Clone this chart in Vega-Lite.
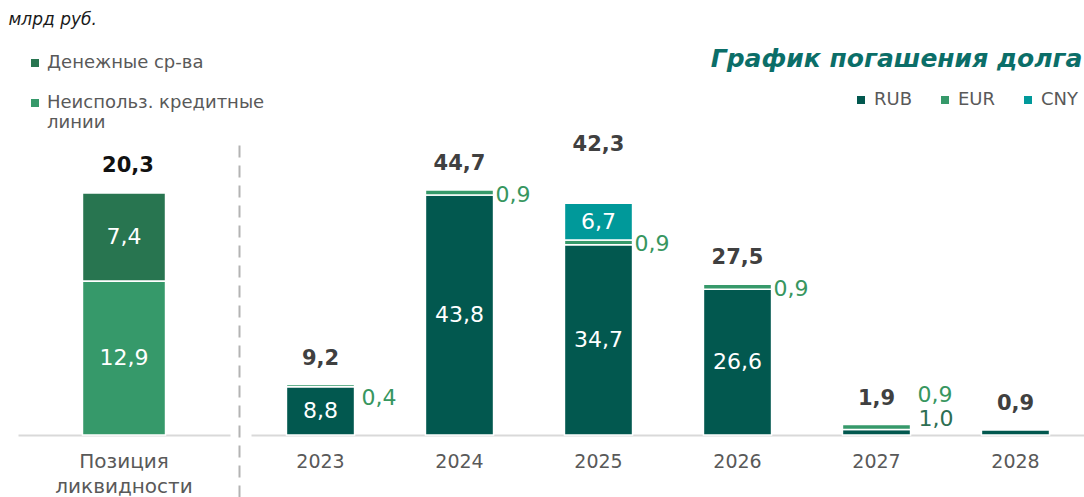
{
  "$schema": "https://vega.github.io/schema/vega-lite/v6.json",
  "width": 1084,
  "height": 435,
  "autosize": {"type": "none"},
  "padding": {"left": 0, "top": 0, "right": 0, "bottom": 62},
  "background": "white",
  "datasets": {
    "liq": [
      {"pos": "Позиция ликвидности", "cat": "Денежные ср-ва", "value": 7.4},
      {"pos": "Позиция ликвидности", "cat": "Неиспольз. кредитные линии", "value": 12.9}
    ],
    "debt": [
      {"year": "2023", "currency": "RUB", "value": 8.8},
      {"year": "2023", "currency": "EUR", "value": 0.4},
      {"year": "2024", "currency": "RUB", "value": 43.8},
      {"year": "2024", "currency": "EUR", "value": 0.9},
      {"year": "2025", "currency": "RUB", "value": 34.7},
      {"year": "2025", "currency": "EUR", "value": 0.9},
      {"year": "2025", "currency": "CNY", "value": 6.7},
      {"year": "2026", "currency": "RUB", "value": 26.6},
      {"year": "2026", "currency": "EUR", "value": 0.9},
      {"year": "2027", "currency": "RUB", "value": 1.0},
      {"year": "2027", "currency": "EUR", "value": 0.9},
      {"year": "2028", "currency": "RUB", "value": 0.9}
    ]
  },
  "config": {
    "font": "DejaVu Sans",
    "view": {"stroke": null},
    "locale": {"number": {"decimal": ",", "thousands": " ", "grouping": [3], "currency": ["", " ₽"]}},
    "axis": {"grid": false, "ticks": false}
  },
  "resolve": {
    "scale": {"x": "independent", "y": "independent", "color": "independent"},
    "axis": {"x": "independent", "y": "independent"},
    "legend": {"color": "independent"}
  },
  "layer": [
    {
      "data": {"name": "liq"},
      "layer": [
        {
          "mark": {"type": "bar", "stroke": "white", "strokeWidth": 1.5},
          "encoding": {
            "x": {"field": "pos", "type": "nominal",
              "scale": {"type": "band", "range": [18, 230], "paddingInner": 0.437, "paddingOuter": 0.437},
              "axis": {"title": null, "orient": "bottom", "labelExpr": "split(datum.label, ' ')", "labelAngle": 0, "labelFontSize": 20, "labelColor": "#595959", "labelLineHeight": 25, "labelPadding": 16, "domainColor": "#d9d9d9", "domainWidth": 2, "ticks": false}},
            "y": {"field": "value", "type": "quantitative", "stack": "zero",
              "scale": {"domain": [0, 25.17], "range": [435, 135], "nice": false},
              "axis": {"orient": "left", "labels": false, "ticks": false, "domain": false, "grid": false, "title": "млрд руб.", "titleAngle": 0, "titleX": 8, "titleY": 19, "titleAlign": "left", "titleBaseline": "middle", "titleFontStyle": "italic", "titleFontWeight": "normal", "titleFontSize": 17, "titleColor": "#1a1a1a"}},
            "color": {"field": "cat", "type": "nominal",
              "scale": {"domain": ["Денежные ср-ва", "Неиспольз. кредитные линии"], "range": ["#287550", "#36996a"]},
              "legend": {"title": null, "orient": "none", "legendX": 26, "legendY": 54, "direction": "vertical", "symbolType": "square", "symbolSize": 64, "symbolStrokeWidth": 0, "labelFontSize": 18, "labelColor": "#595959", "labelOffset": 3, "rowPadding": 22, "labelLimit": 400,
                "labelExpr": "datum.label == 'Неиспольз. кредитные линии' ? ['Неиспольз. кредитные', 'линии'] : datum.label"}},
            "order": {"field": "cat", "sort": "descending"}
          }
        },
        {
          "mark": {"type": "text", "color": "white", "fontSize": 22},
          "encoding": {
            "x": {"field": "pos", "type": "nominal"},
            "y": {"field": "value", "type": "quantitative", "stack": "zero", "bandPosition": 0.5},
            "detail": {"field": "cat"},
            "order": {"field": "cat", "sort": "descending"},
            "text": {"field": "value", "type": "quantitative", "format": ".1f"}
          }
        },
        {
          "transform": [{"aggregate": [{"op": "sum", "field": "value", "as": "total"}], "groupby": ["pos"]}],
          "mark": {"type": "text", "color": "#111111", "fontSize": 21, "fontWeight": "bold", "dy": -27, "dx": 4},
          "encoding": {
            "x": {"field": "pos", "type": "nominal"},
            "y": {"field": "total", "type": "quantitative"},
            "text": {"field": "total", "type": "quantitative", "format": ".1f"}
          }
        }
      ]
    },
    {
      "data": {"name": "debt"},
      "layer": [
        {
          "mark": {"type": "bar", "stroke": "white", "strokeWidth": 1.5},
          "encoding": {
            "x": {"field": "year", "type": "ordinal",
              "scale": {"type": "band", "range": [251, 1085], "paddingInner": 0.51, "paddingOuter": 0.255},
              "axis": {"title": null, "orient": "bottom", "labelAngle": 0, "labelFontSize": 19, "labelColor": "#595959", "labelPadding": 17, "domainColor": "#d9d9d9", "domainWidth": 2, "ticks": false}},
            "y": {"field": "value", "type": "quantitative", "stack": "zero",
              "scale": {"domain": [-11.31, 53.83], "range": [497, 140], "nice": false, "zero": false},
              "axis": {"orient": "left", "offset": -239, "labels": false, "ticks": false, "grid": false, "domain": true, "domainColor": "#b3b3b3", "domainDash": [12, 8], "domainWidth": 2,
                "title": "График погашения долга", "titleAngle": 0, "titleX": 843, "titleY": 58, "titleAlign": "right", "titleBaseline": "middle", "titleFontStyle": "italic", "titleFontWeight": "bold", "titleFontSize": 25, "titleColor": "#0b6e68"}},
            "color": {"field": "currency", "type": "nominal",
              "scale": {"domain": ["RUB", "EUR", "CNY"], "range": ["#02584f", "#36996a", "#00999a"]},
              "legend": {"title": null, "orient": "none", "legendX": 852, "legendY": 91, "direction": "horizontal", "symbolType": "square", "symbolSize": 64, "symbolStrokeWidth": 0, "labelFontSize": 18, "labelColor": "#595959", "labelOffset": 4, "columnPadding": 23}},
            "order": {"field": "currency", "sort": "descending"}
          }
        },
        {
          "mark": {"type": "text", "color": "white", "fontSize": 22},
          "encoding": {
            "x": {"field": "year", "type": "ordinal"},
            "y": {"field": "value", "type": "quantitative", "stack": "zero", "bandPosition": 0.5},
            "detail": {"field": "currency"},
            "order": {"field": "currency", "sort": "descending"},
            "text": {"field": "value", "type": "quantitative", "format": ".1f"},
            "opacity": {"condition": {"test": "datum.currency != 'EUR' && datum.value > 2", "value": 1}, "value": 0}
          }
        },
        {
          "mark": {"type": "text", "color": "#37965f", "fontSize": 22, "align": "left", "dx": 36, "dy": 2},
          "encoding": {
            "x": {"field": "year", "type": "ordinal"},
            "y": {"field": "value", "type": "quantitative", "stack": "zero", "bandPosition": 0.5},
            "detail": {"field": "currency"},
            "order": {"field": "currency", "sort": "descending"},
            "text": {"field": "value", "type": "quantitative", "format": ".1f"},
            "opacity": {"condition": {"test": "datum.currency == 'EUR' && datum.year != '2023' && datum.year != '2027'", "value": 1}, "value": 0}
          }
        },
        {
          "transform": [{"filter": "datum.currency == 'EUR' && (datum.year == '2023' || datum.year == '2027')"}],
          "mark": {"type": "text", "color": "#37965f", "fontSize": 22, "align": "left", "dx": 41, "dy": -35},
          "encoding": {
            "x": {"field": "year", "type": "ordinal"},
            "y": {"field": "value", "type": "quantitative", "stack": null},
            "text": {"field": "value", "type": "quantitative", "format": ".1f"}
          }
        },
        {
          "transform": [{"filter": "datum.currency == 'RUB' && datum.year == '2027'"}],
          "mark": {"type": "text", "color": "#2d6e53", "fontSize": 22, "align": "left", "dx": 42, "dy": -11},
          "encoding": {
            "x": {"field": "year", "type": "ordinal"},
            "y": {"field": "value", "type": "quantitative", "stack": null},
            "text": {"field": "value", "type": "quantitative", "format": ".1f"}
          }
        },
        {
          "transform": [
            {"filter": "datum.year != '2025'"},
            {"aggregate": [{"op": "sum", "field": "value", "as": "total"}], "groupby": ["year"]}
          ],
          "mark": {"type": "text", "color": "#404040", "fontSize": 21, "fontWeight": "bold", "dy": -26},
          "encoding": {
            "x": {"field": "year", "type": "ordinal"},
            "y": {"field": "total", "type": "quantitative"},
            "text": {"field": "total", "type": "quantitative", "format": ".1f"}
          }
        },
        {
          "transform": [
            {"filter": "datum.year == '2025'"},
            {"aggregate": [{"op": "sum", "field": "value", "as": "total"}], "groupby": ["year"]}
          ],
          "mark": {"type": "text", "color": "#404040", "fontSize": 21, "fontWeight": "bold", "dy": -58},
          "encoding": {
            "x": {"field": "year", "type": "ordinal"},
            "y": {"field": "total", "type": "quantitative"},
            "text": {"field": "total", "type": "quantitative", "format": ".1f"}
          }
        }
      ]
    }
  ]
}
